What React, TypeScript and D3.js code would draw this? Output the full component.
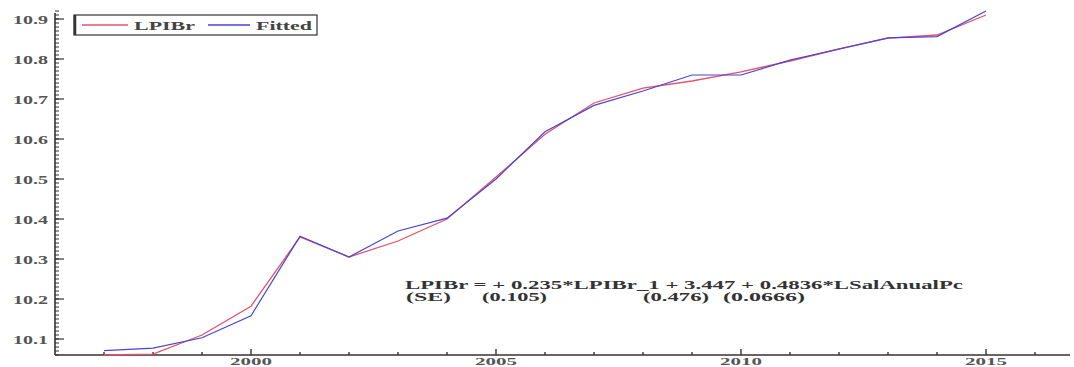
import { useEffect, useRef } from 'react'
import * as d3 from 'd3'

// years and series
const years = [1997, 1998, 1999, 2000, 2001, 2002, 2003, 2004, 2005, 2006, 2007, 2008, 2009, 2010, 2011, 2012, 2013, 2014, 2015]
const lpibr = [10.06, 10.062, 10.11, 10.182, 10.355, 10.305, 10.345, 10.4, 10.505, 10.612, 10.69, 10.727, 10.745, 10.768, 10.795, 10.825, 10.852, 10.86, 10.91]
const fitted = [10.071, 10.077, 10.103, 10.158, 10.357, 10.305, 10.37, 10.402, 10.5, 10.618, 10.684, 10.72, 10.76, 10.76, 10.797, 10.825, 10.853, 10.856, 10.92]
const yTicks = [10.1, 10.2, 10.3, 10.4, 10.5, 10.6, 10.7, 10.8, 10.9]
const xTicks = [2000, 2005, 2010, 2015]

const RED = '#e8506a'
const BLUE = '#4646d2'
const AXIS = '#333'
const FONT = '"Liberation Serif", "DejaVu Serif", serif'

export default function App() {
  const svgRef = useRef<SVGSVGElement>(null)

  useEffect(() => {
    if (!svgRef.current) return
    const svg = d3.select(svgRef.current)
    svg.selectAll('*').remove()

    const left = 55
    const bottom = 355

    const x = d3.scaleLinear().domain([1996, 2016.7]).range([left, left + 20.7 * 49])
    const y = d3.scaleLinear().domain([10.06, 10.9]).range([bottom, 19])
    const yTop = y(10.915)

    // axes lines
    svg.append('line')
      .attr('x1', left).attr('x2', left)
      .attr('y1', yTop).attr('y2', bottom)
      .attr('stroke', AXIS).attr('stroke-width', 1.6)
    svg.append('line')
      .attr('x1', left).attr('x2', 1070)
      .attr('y1', bottom).attr('y2', bottom)
      .attr('stroke', AXIS).attr('stroke-width', 1.6)

    // y minor ticks every 0.01
    const minorY = d3.range(Math.round(10.06 * 100), Math.round(10.915 * 100) + 1).map(v => v / 100)
    svg.append('g').selectAll('line')
      .data(minorY)
      .enter()
      .append('line')
      .attr('x1', left).attr('x2', left + 4)
      .attr('y1', d => y(d)).attr('y2', d => y(d))
      .attr('stroke', AXIS).attr('stroke-width', 1)

    svg.append('g').selectAll('line')
      .data(yTicks)
      .enter()
      .append('line')
      .attr('x1', left).attr('x2', left + 9)
      .attr('y1', d => y(d)).attr('y2', d => y(d))
      .attr('stroke', AXIS).attr('stroke-width', 1.2)

    // labels are drawn wide, like the stretched original
    svg.append('g').selectAll('text')
      .data(yTicks)
      .enter()
      .append('text')
      .attr('x', left - 7)
      .attr('y', d => y(d))
      .attr('dy', '0.35em')
      .attr('text-anchor', 'end')
      .attr('font-family', FONT)
      .attr('font-size', 13)
      .attr('font-weight', 700)
      .attr('fill', '#555')
      .attr('textLength', 35)
      .attr('lengthAdjust', 'spacingAndGlyphs')
      .text(d => d.toFixed(1))

    // x ticks every year
    const minorX = d3.range(1997, 2017)
    svg.append('g').selectAll('line')
      .data(minorX)
      .enter()
      .append('line')
      .attr('x1', d => x(d)).attr('x2', d => x(d))
      .attr('y1', bottom).attr('y2', d => bottom - (d % 5 === 0 ? 6 : 3))
      .attr('stroke', AXIS).attr('stroke-width', 1.4)

    svg.append('g').selectAll('text')
      .data(xTicks)
      .enter()
      .append('text')
      .attr('x', d => x(d))
      .attr('y', 364.5)
      .attr('text-anchor', 'middle')
      .attr('font-family', FONT)
      .attr('font-size', 11)
      .attr('font-weight', 700)
      .attr('fill', '#555')
      .attr('textLength', 42)
      .attr('lengthAdjust', 'spacingAndGlyphs')
      .text(d => String(d))

    // series
    const line = d3.line<number>()
      .x((_, i) => x(years[i]))
      .y(d => y(d))

    svg.append('path')
      .datum(lpibr)
      .attr('d', line)
      .attr('fill', 'none')
      .attr('stroke', RED)
      .attr('stroke-width', 1.3)

    svg.append('path')
      .datum(fitted)
      .attr('d', line)
      .attr('fill', 'none')
      .attr('stroke', BLUE)
      .attr('stroke-width', 1.2)

    // legend
    const lg = svg.append('g')
      .attr('font-family', FONT).attr('font-size', 13).attr('font-weight', 700)
      .attr('fill', '#444')
    lg.append('rect')
      .attr('x', 74).attr('y', 15).attr('width', 243).attr('height', 20)
      .attr('fill', '#fff').attr('stroke', AXIS).attr('stroke-width', 1.2)
    lg.append('line')
      .attr('x1', 75).attr('x2', 75).attr('y1', 15).attr('y2', 35)
      .attr('stroke', AXIS).attr('stroke-width', 2.5)
    lg.append('line')
      .attr('x1', 82).attr('x2', 128).attr('y1', 25).attr('y2', 25)
      .attr('stroke', RED).attr('stroke-width', 1.3)
    lg.append('text')
      .attr('x', 134).attr('y', 29.5)
      .attr('textLength', 61).attr('lengthAdjust', 'spacingAndGlyphs')
      .text('LPIBr')
    lg.append('line')
      .attr('x1', 208).attr('x2', 250).attr('y1', 25).attr('y2', 25)
      .attr('stroke', BLUE).attr('stroke-width', 1.3)
    lg.append('text')
      .attr('x', 256).attr('y', 29.5)
      .attr('textLength', 56).attr('lengthAdjust', 'spacingAndGlyphs')
      .text('Fitted')

    // equation
    const eq = svg.append('g')
      .attr('font-family', FONT).attr('font-size', 12).attr('font-weight', 700)
      .attr('fill', '#333')
    eq.append('text')
      .attr('x', 405).attr('y', 289)
      .attr('textLength', 558).attr('lengthAdjust', 'spacingAndGlyphs')
      .text('LPIBr =  + 0.235*LPIBr_1 + 3.447 +  0.4836*LSalAnualPc')
    const se: [string, number, number][] = [['(SE)', 406, 45], ['(0.105)', 482, 65], ['(0.476)', 643, 66], ['(0.0666)', 723, 82]]
    eq.selectAll('text.se')
      .data(se)
      .enter()
      .append('text')
      .attr('class', 'se')
      .attr('x', d => d[1]).attr('y', 301)
      .attr('textLength', d => d[2]).attr('lengthAdjust', 'spacingAndGlyphs')
      .text(d => d[0])
  }, [])

  return (
    <svg
      ref={svgRef}
      width={1074}
      height={367}
      style={{ position: 'absolute', left: 0, top: 0, background: '#fff' }}
    />
  )
}
